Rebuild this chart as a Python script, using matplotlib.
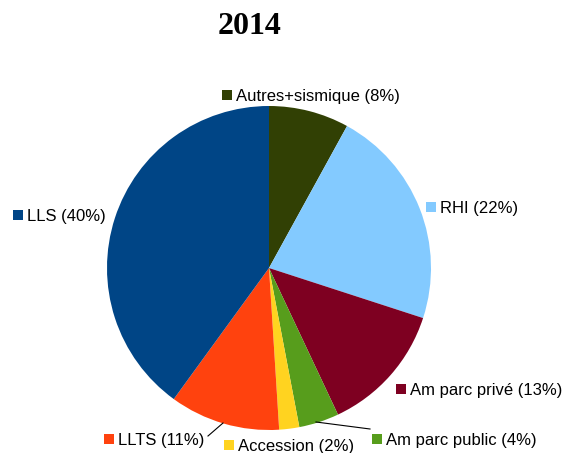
import matplotlib
matplotlib.use("Agg")
import matplotlib.pyplot as plt

labels = ["Autres+sismique", "RHI", "Am parc privé", "Am parc public", "Accession", "LLTS", "LLS"]
values = [8, 22, 13, 4, 2, 11, 40]
colors = ["#314004", "#83CAFF", "#7E0021", "#579D1C", "#FFD320", "#FF420E", "#004586"]
title = "2014"

W, H = 567, 453
fig = plt.figure(figsize=(W / 100, H / 100), dpi=100)
cx, cy, r = 269, 268, 162
ax = fig.add_axes([(cx - r) / W, (H - cy - r) / H, 2 * r / W, 2 * r / H])
ax.pie(values, colors=colors, startangle=90, counterclock=False, radius=1,
       wedgeprops=dict(linewidth=0))
ax.set_xlim(-1, 1)
ax.set_ylim(-1, 1)
ax.set_aspect("equal")
ax.axis("off")

fig.text(250 / W, 1 - 27 / H, title, ha="center", va="center",
         fontsize=23, fontweight="bold", family="Liberation Serif")

# label positions in pixels: (square left x, center y)
pos = [(222, 95), (426, 207), (396, 389), (372, 439), (224, 445), (104, 439), (13, 215)]
for (px, py), lab, v, c in zip(pos, labels, values, colors):
    fig.patches.append(plt.Rectangle((px / W, 1 - (py + 5) / H), 10 / W, 10 / H,
                                     transform=fig.transFigure, color=c, lw=0))
    fig.text((px + 14) / W, 1 - (py + 1.5) / H, f"{lab} ({v}%)", ha="left", va="center",
             fontsize=12, family="Liberation Sans", color="#000000")

# leader lines
for (x0, y0), (x1, y1) in [((208, 436), (223, 423)), ((316, 422), (370, 429))]:
    fig.add_artist(plt.Line2D([x0 / W, x1 / W], [1 - y0 / H, 1 - y1 / H],
                              transform=fig.transFigure, color="black", lw=0.8))

fig.savefig("out.png", dpi=100)
